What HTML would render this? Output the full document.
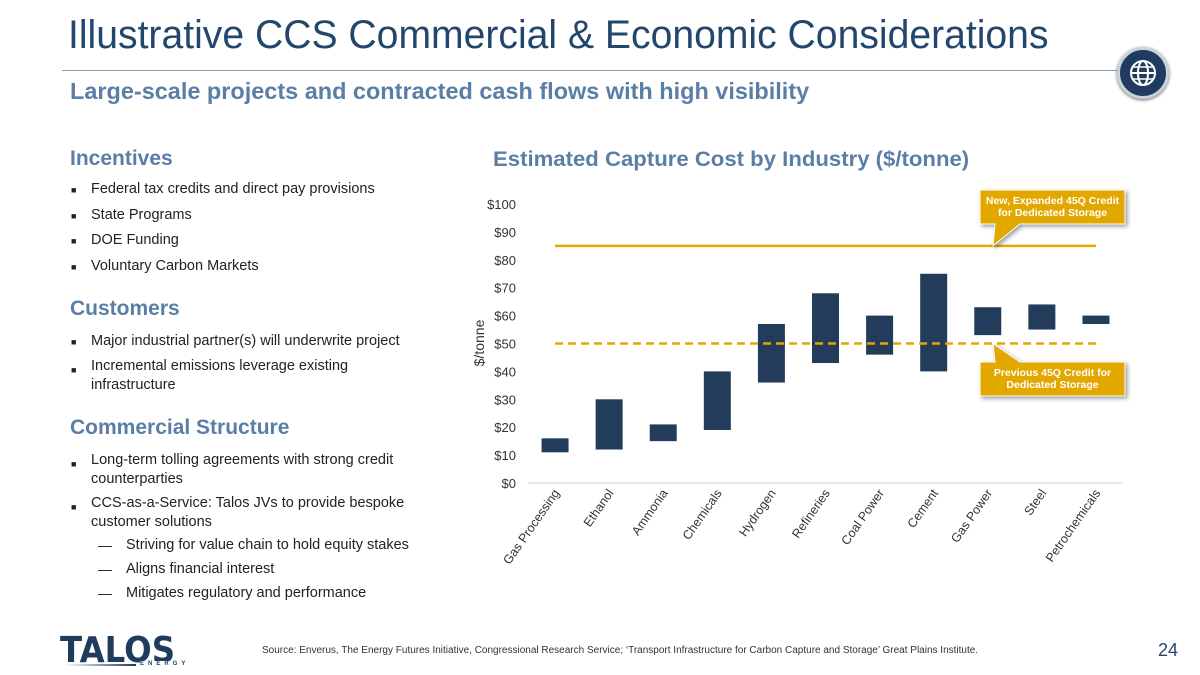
<!DOCTYPE html>
<html><head><meta charset="utf-8"><style>
body{margin:0;width:1200px;height:675px;background:#fff;font-family:"Liberation Sans",sans-serif;position:relative;overflow:hidden}
.a{position:absolute;white-space:nowrap}
.title{left:68px;top:13px;font-size:40px;color:#23466c;transform:scaleX(0.978);transform-origin:left top}
.sub{left:70px;top:78px;font-size:23px;font-weight:bold;color:#5b7ea6;transform:scaleX(1.02);transform-origin:left top}
.h{font-size:21px;font-weight:bold;color:#5b7ea6}
.li{font-size:14.5px;color:#222}
.li span{position:absolute;left:-20px;font-size:9px;top:4px}
.chart-title{left:493px;top:147px;font-size:21.5px;transform:scaleX(1.03);transform-origin:left top}
</style></head><body>
<div class="a title">Illustrative CCS Commercial &amp; Economic Considerations</div>
<div class="a" style="left:62px;top:70px;width:1060px;height:1px;background:#8aa0b8"></div>
<div class="a" style="left:1117px;top:47px;width:46px;height:46px;border-radius:50%;background:#1f3c5e;border:3px solid #c9d3de;box-shadow:0 1px 3px #666">
<svg width="46" height="46"><circle cx="23" cy="23" r="12" fill="none" stroke="#fff" stroke-width="2"/><ellipse cx="23" cy="23" rx="5" ry="12" fill="none" stroke="#fff" stroke-width="2"/><line x1="11" y1="23" x2="35" y2="23" stroke="#fff" stroke-width="2"/><line x1="13" y1="17" x2="33" y2="17" stroke="#fff" stroke-width="1.5"/><line x1="13" y1="29" x2="33" y2="29" stroke="#fff" stroke-width="1.5"/></svg></div>
<div class="a sub">Large-scale projects and contracted cash flows with high visibility</div>

<div class="a h" style="left:70px;top:147px">Incentives</div>
<div class="a li" style="left:91px;top:181px"><span>■</span>Federal tax credits and direct pay provisions</div>
<div class="a li" style="left:91px;top:207px"><span>■</span>State Programs</div>
<div class="a li" style="left:91px;top:232px"><span>■</span>DOE Funding</div>
<div class="a li" style="left:91px;top:258px"><span>■</span>Voluntary Carbon Markets</div>
<div class="a h" style="left:70px;top:297px">Customers</div>
<div class="a li" style="left:91px;top:333px"><span>■</span>Major industrial partner(s) will underwrite project</div>
<div class="a li" style="left:91px;top:357px;line-height:19px"><span>■</span>Incremental emissions leverage existing<br>infrastructure</div>
<div class="a h" style="left:70px;top:416px">Commercial Structure</div>
<div class="a li" style="left:91px;top:451px;line-height:19px"><span>■</span>Long-term tolling agreements with strong credit<br>counterparties</div>
<div class="a li" style="left:91px;top:494px;line-height:19px"><span>■</span>CCS-as-a-Service: Talos JVs to provide bespoke<br>customer solutions</div>
<div class="a li" style="left:126px;top:537px"><span style="left:-28px;font-size:14px;top:0">—</span>Striving for value chain to hold equity stakes</div>
<div class="a li" style="left:126px;top:561px"><span style="left:-28px;font-size:14px;top:0">—</span>Aligns financial interest</div>
<div class="a li" style="left:126px;top:585px"><span style="left:-28px;font-size:14px;top:0">—</span>Mitigates regulatory and performance</div>

<div class="a h chart-title">Estimated Capture Cost by Industry ($/tonne)</div>
<svg class="a" style="left:0;top:0" width="1200" height="675" id="chart"></svg>

<div class="a" style="left:60px;top:630px;font-size:36px;font-weight:900;color:#1f3c5e;letter-spacing:0px;font-family:'DejaVu Sans',sans-serif;transform:scaleX(0.9);transform-origin:left top">TALOS</div>
<div class="a" style="left:140px;top:661px;font-size:6px;letter-spacing:4px;color:#1f3c5e;font-weight:bold;background:#fff">ENERGY</div>
<div class="a" style="left:64px;top:664px;width:72px;height:2px;background:linear-gradient(90deg,#fff,#1f3c5e)"></div>
<div class="a" style="left:262px;top:645px;font-size:10px;color:#333">Source: Enverus, The Energy Futures Initiative, Congressional Research Service; ‘Transport Infrastructure for Carbon Capture and Storage’ Great Plains Institute.</div>
<div class="a" style="left:1158px;top:640px;font-size:18px;color:#23466c">24</div>

<script>
const categories=["Gas Processing","Ethanol","Ammonia","Chemicals","Hydrogen","Refineries","Coal Power","Cement","Gas Power","Steel","Petrochemicals"];
const lowValues=[11,12,15,19,36,43,46,40,53,55,57];
const highValues=[16,30,21,40,57,68,60,75,63,64,60];
const yTicks=[0,10,20,30,40,50,60,70,80,90,100];
const newCredit=85;
const oldCredit=50;
const NS="http://www.w3.org/2000/svg";
const svg=document.getElementById('chart');
const x0=528,x1=1123,y0=483,yScale=2.79;
const step=(x1-x0)/categories.length;
function y(v){return y0-v*yScale;}
function xc(i){return x0+step*(i+0.5);}
function mk(t,a){const e=document.createElementNS(NS,t);for(const k in a)e.setAttribute(k,a[k]);svg.appendChild(e);return e;}
let ax=mk('line',{x1:x0,x2:x1,y1:y0,y2:y0,stroke:'#d0d0d0'});


yTicks.forEach(v=>{const t=mk('text',{x:516,y:y(v)+5,'text-anchor':'end','font-size':13,fill:'#333','font-family':'Liberation Sans'});t.textContent='$'+v;

});
const yt=mk('text',{transform:'translate(484,343) rotate(-90)','text-anchor':'middle','font-size':14,fill:'#333','font-family':'Liberation Sans'});yt.textContent='$/tonne';


categories.forEach((c,i)=>{const b=mk('rect',{x:xc(i)-13.5,width:27,y:y(highValues[i]),height:(highValues[i]-lowValues[i])*yScale,fill:'#233c5c'});


const t=mk('text',{transform:`translate(${xc(i)+5},${y0+10}) rotate(-55)`,'text-anchor':'end','font-size':12.5,fill:'#333','font-family':'Liberation Sans'});t.textContent=c;

});
const l1=mk('line',{x1:xc(0),x2:xc(10),y1:y(newCredit),y2:y(newCredit),stroke:'#e3a800','stroke-width':2.5});


const l2=mk('line',{x1:xc(0),x2:xc(10),y1:y(oldCredit),y2:y(oldCredit),stroke:'#e3a800','stroke-width':2.5,'stroke-dasharray':'8 5'});


function callout(bx,by,w,h,px,py,lines,name,up){
 const pts=up?`${bx},${by} ${bx+15},${by} ${px},${py} ${bx+40},${by} ${bx+w},${by} ${bx+w},${by+h} ${bx},${by+h}`:`${bx},${by} ${bx+w},${by} ${bx+w},${by+h} ${bx+40},${by+h} ${px},${py} ${bx+15},${by+h} ${bx},${by+h}`;
 const p=mk('polygon',{points:pts,fill:'#e3a800',stroke:'#fff','stroke-width':1,style:'filter:drop-shadow(2px 2px 2px rgba(0,0,0,.4))'});
 
 
 lines.forEach((s,k)=>{const t=mk('text',{x:bx+w/2,y:by+14+k*12,'text-anchor':'middle','font-size':10.5,'font-weight':'bold',fill:'#fff','font-family':'Liberation Sans'});t.textContent=s;
 
 });
}
callout(980,190,145,34,993,y(newCredit),['New, Expanded 45Q Credit','for Dedicated Storage'],'new-credit-callout',false);
callout(980,362,145,34,993,y(oldCredit),['Previous 45Q Credit for','Dedicated Storage'],'previous-credit-callout',true);
</script>
</body></html>
